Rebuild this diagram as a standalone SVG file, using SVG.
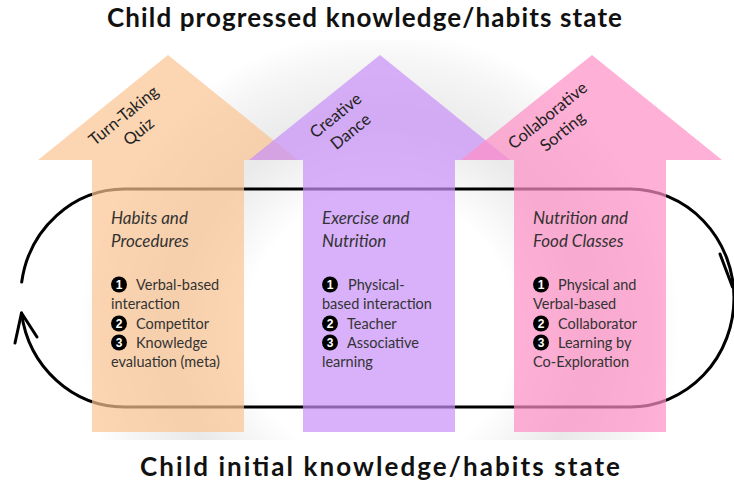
<svg xmlns="http://www.w3.org/2000/svg" width="734" height="485" viewBox="0 0 734 485">
<defs>
<radialGradient id="glow" gradientUnits="userSpaceOnUse" cx="380" cy="330" r="300">
<stop offset="0" stop-color="#ffffff"/>
<stop offset="0.45" stop-color="#ffffff"/>
<stop offset="0.7" stop-color="#e9e9e9"/>
<stop offset="0.9" stop-color="#f6f6f6"/>
<stop offset="1" stop-color="#ffffff"/>
</radialGradient>
<style>
.title{font-family:Lato,"Liberation Sans",sans-serif;font-weight:bold;font-size:26px;fill:#111}
.lbl{font-family:Lato,"Liberation Sans",sans-serif;font-size:16.5px;fill:#222;text-anchor:middle}
.hd{font-family:Lato,"Liberation Sans",sans-serif;font-style:italic;font-size:17px;fill:#333}
.tx{font-family:Lato,"Liberation Sans",sans-serif;font-size:14.5px;fill:#333}
.dot{fill:#000}
.n{font-family:"Liberation Sans",Arial,sans-serif;font-weight:bold;font-size:12px;fill:#fff;text-anchor:middle}
.arrow{fill-opacity:0.7}
.loop{fill:none;stroke:#000;stroke-width:3;stroke-linecap:round;stroke-linejoin:round}
</style>
</defs>
<rect width="734" height="485" fill="#ffffff"/>
<rect x="0" y="40" width="734" height="400" fill="url(#glow)"/>

<g id="connectors">
<path class="loop" d="M21.7,282 A104,109 0 0 1 125,189 H630 A104,109 0 0 1 630,407 H125 A104,109 0 0 1 21.5,313"/>
<path class="loop" d="M15,343 L21.5,313 L37,337"/>
<path class="loop" d="M720,254 L732.5,287 L745,262"/>
</g>

<g id="quiz">
<path class="arrow" fill="#FBC491" d="M168,55 L298,160 L244,160 L244,432 L92,432 L92,160 L38,160 Z"/>
<text class="lbl" transform="rotate(-39 124 116)" x="124" y="121">Turn-Taking</text>
<text class="lbl" transform="rotate(-39 139 132)" x="139" y="137">Quiz</text>
<text class="hd" x="111" y="224">Habits and</text>
<text class="hd" x="111" y="247">Procedures</text>
<circle class="dot" cx="119" cy="284.5" r="8"/><text class="n" x="119" y="288.8">1</text>
<text class="tx" x="136" y="290">Verbal-based</text>
<text class="tx" x="111" y="309">interaction</text>
<circle class="dot" cx="119" cy="323.5" r="8"/><text class="n" x="119" y="327.8">2</text>
<text class="tx" x="136" y="329">Competitor</text>
<circle class="dot" cx="119" cy="342.5" r="8"/><text class="n" x="119" y="346.8">3</text>
<text class="tx" x="136" y="348">Knowledge</text>
<text class="tx" x="111" y="367">evaluation (meta)</text>
</g>

<g id="dance">
<path class="arrow" fill="#C790F8" d="M380,55 L510,160 L455,160 L455,432 L303,432 L303,160 L249,160 Z"/>
<text class="lbl" transform="rotate(-39 336 116)" x="336" y="121">Creative</text>
<text class="lbl" transform="rotate(-39 351 132)" x="351" y="137">Dance</text>
<text class="hd" x="322" y="224">Exercise and</text>
<text class="hd" x="322" y="247">Nutrition</text>
<circle class="dot" cx="330" cy="284.5" r="8"/><text class="n" x="330" y="288.8">1</text>
<text class="tx" x="348" y="290">Physical-</text>
<text class="tx" x="322" y="309">based interaction</text>
<circle class="dot" cx="330" cy="323.5" r="8"/><text class="n" x="330" y="327.8">2</text>
<text class="tx" x="347" y="329">Teacher</text>
<circle class="dot" cx="330" cy="342.5" r="8"/><text class="n" x="330" y="346.8">3</text>
<text class="tx" x="347" y="348">Associative</text>
<text class="tx" x="322" y="367">learning</text>
</g>

<g id="sorting">
<path class="arrow" fill="#FF8EC4" d="M592,55 L722,160 L666,160 L666,432 L514,432 L514,160 L461,160 Z"/>
<text class="lbl" transform="rotate(-39 548 116)" x="548" y="121">Collaborative</text>
<text class="lbl" transform="rotate(-39 563 132)" x="563" y="137">Sorting</text>
<text class="hd" x="533" y="224">Nutrition and</text>
<text class="hd" x="533" y="247">Food Classes</text>
<circle class="dot" cx="541" cy="284.5" r="8"/><text class="n" x="541" y="288.8">1</text>
<text class="tx" x="558" y="290">Physical and</text>
<text class="tx" x="533" y="309">Verbal-based</text>
<circle class="dot" cx="541" cy="323.5" r="8"/><text class="n" x="541" y="327.8">2</text>
<text class="tx" x="558" y="329">Collaborator</text>
<circle class="dot" cx="541" cy="342.5" r="8"/><text class="n" x="541" y="346.8">3</text>
<text class="tx" x="558" y="348">Learning by</text>
<text class="tx" x="533" y="367">Co-Exploration</text>
</g>

<g id="top-state">
<text class="title" x="107" y="27" textLength="515" lengthAdjust="spacing">Child progressed knowledge/habits state</text>
</g>
<g id="bottom-state">
<text class="title" x="140" y="476" textLength="480" lengthAdjust="spacing">Child initial knowledge/habits state</text>
</g>
</svg>
